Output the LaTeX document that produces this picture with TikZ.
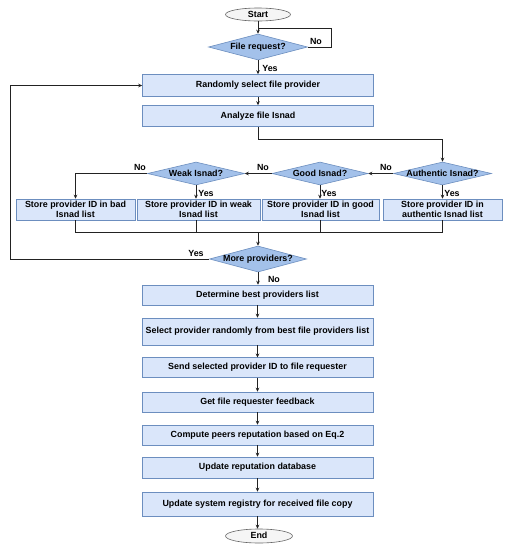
\documentclass[tikz,border=0pt]{standalone}
\usepackage{fontspec}
\setmainfont{Liberation Sans}
\usetikzlibrary{shapes.geometric,arrows.meta}
\definecolor{boxfill}{HTML}{DAE6FA}
\definecolor{boxdraw}{HTML}{6C8EBF}
\definecolor{diafill}{HTML}{A3C1EA}
\definecolor{ellfill}{HTML}{F5F5F5}
\definecolor{elldraw}{HTML}{666666}
\definecolor{linecol}{HTML}{222222}
\newcommand\dtext[1]{\raisebox{-0.55ex}[0pt][0pt]{\makebox[0pt]{#1}}}
\begin{document}
\begin{tikzpicture}[x=1pt,y=-1pt,
  font=\fontsize{8.9}{9.6}\selectfont\bfseries,
  box/.style={draw=boxdraw, fill=boxfill, inner sep=0pt, align=center, line width=0.6pt},
  dia/.style={diamond, draw=boxdraw, fill=diafill, inner sep=0pt, line width=0.6pt},
  term/.style={ellipse, draw=elldraw, fill=ellfill, inner sep=0pt, line width=0.6pt},
  line/.style={draw=linecol, line width=0.7pt},
  arr/.style={line, -{Stealth[length=4pt,width=3.6pt]}},
  lbl/.style={inner sep=0pt}]
\fill[white] (0,0) rectangle (511,550);
\useasboundingbox (0,0) rectangle (511,550);

% nodes
\node[term, minimum width=65pt, minimum height=13pt] (start) at (258,14.5) {\dtext{Start}};
\node[dia, minimum width=99pt, minimum height=26pt] (fr) at (258,47) {\dtext{File request?}};
\node[box, minimum width=231pt, minimum height=22pt] (rand) at (258,85.5) {Randomly select file provider};
\node[box, minimum width=231pt, minimum height=21pt] (anal) at (258,116) {Analyze file Isnad};

\node[dia, minimum width=97pt, minimum height=23pt] (weak) at (196,173.5) {\dtext{Weak Isnad?}};
\node[dia, minimum width=96pt, minimum height=23pt] (good) at (320,173.5) {\dtext{Good Isnad?}};
\node[dia, minimum width=98pt, minimum height=23pt] (auth) at (442.5,173.5) {\dtext{Authentic Isnad?}};

\node[box, minimum width=119pt, minimum height=21pt] (bad) at (75.5,209.5) {Store provider ID in bad\\Isnad list};
\node[box, minimum width=123pt, minimum height=21pt] (weakb) at (198.5,209.5) {Store provider ID in weak\\Isnad list};
\node[box, minimum width=117pt, minimum height=21pt] (goodb) at (320.5,209.5) {Store provider ID in good\\Isnad list};
\node[box, minimum width=119pt, minimum height=21pt] (authb) at (442.5,209.5) {Store provider ID in\\authentic Isnad list};

\node[dia, minimum width=97pt, minimum height=26pt] (more) at (258,259) {\dtext{More providers?}};

\node[box, minimum width=231pt, minimum height=20pt] (det) at (257.5,295) {Determine best providers list};
\node[box, minimum width=231pt, minimum height=27pt] (sel) at (257.5,331.5) {Select provider randomly from best file providers list};
\node[box, minimum width=231pt, minimum height=19.5pt] (send) at (257.5,367.5) {Send selected provider ID to file requester};
\node[box, minimum width=231pt, minimum height=20pt] (get) at (257.5,402) {Get file requester feedback};
\node[box, minimum width=231pt, minimum height=20pt] (comp) at (257.5,435) {Compute peers reputation based on Eq.2};
\node[box, minimum width=231pt, minimum height=21pt] (upd) at (257.5,467.5) {Update reputation database};
\node[box, minimum width=231pt, minimum height=24pt] (reg) at (257.5,504) {Update system registry for received file copy};
\node[term, minimum width=67pt, minimum height=14pt] (end) at (259,536) {\dtext{End}};

% labels
\node[lbl] (l1) at (316,41) {No};
\node[lbl] (l2) at (270,68) {Yes};
\node[lbl] (l3) at (386,167) {No};
\node[lbl] (l4) at (263,167) {No};
\node[lbl] (l5) at (140,167) {No};
\node[lbl] (l6) at (206,193) {Yes};
\node[lbl] (l7) at (329,193) {Yes};
\node[lbl] (l8) at (452,193) {Yes};
\node[lbl] (l9) at (196,253) {Yes};
\node[lbl] (l10) at (274,279) {No};

% connectors
\coordinate (j1) at (258,28);
\draw[arr] (start) -- (fr);
\draw[line] (fr.east) -- ++(24,0) |- (j1);
\draw[arr] (fr) -- (rand);
\draw[arr] (rand) -- (anal);
\coordinate (j2) at (258,139);
\draw[arr] (anal.south) -- (j2) -| (auth.north);
\draw[arr] (auth.west) -- (good.east);
\draw[arr] (good.west) -- (weak.east);
\draw[arr] (weak.west) -| (bad.north);
\draw[arr] (weak.south) -- (weak.south |- weakb.north);
\draw[arr] (good.south) -- (good.south |- goodb.north);
\draw[arr] (auth.south) -- (auth.south |- authb.north);
\coordinate (jm) at (258,232);
\draw[line] (bad.south) -- (bad.south |- jm) -- (authb.south |- jm) -- (authb.south);
\draw[line] (weak.south |- weakb.south) -- (weak.south |- jm);
\draw[line] (good.south |- goodb.south) -- (good.south |- jm);
\draw[arr] (jm) -- (more.north);
\coordinate (lp) at (10,259);
\draw[arr] (more.west) -- (lp) |- (rand.west);
\draw[arr] (more.south) -- (more.south |- det.north);
\draw[arr] (det) -- (sel);
\draw[arr] (sel) -- (send);
\draw[arr] (send) -- (get);
\draw[arr] (get) -- (comp);
\draw[arr] (comp) -- (upd);
\draw[arr] (upd) -- (reg);
\draw[arr] (reg.south) -- (reg.south |- end.north);
\end{tikzpicture}
\end{document}
